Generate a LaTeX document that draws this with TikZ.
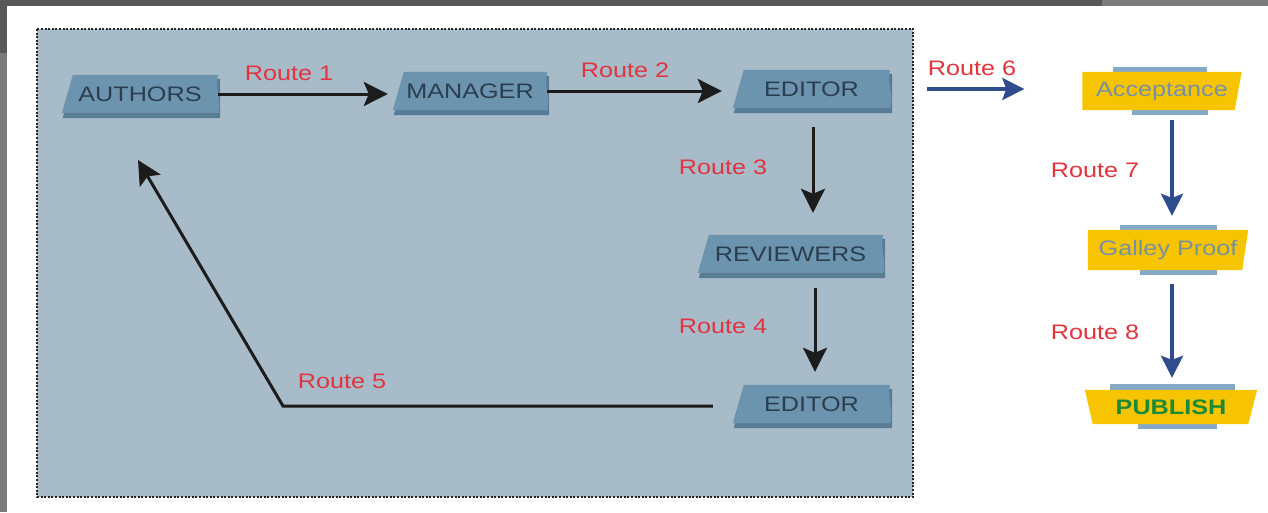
\documentclass[tikz,border=0pt]{standalone}
\usepackage{fontspec}
\setmainfont{Liberation Sans}[FakeStretch=1.2]
\usetikzlibrary{arrows.meta,backgrounds,calc}
\definecolor{panel}{HTML}{A7BBC9}
\definecolor{tagfill}{HTML}{6C94AE}
\definecolor{tagshadow}{HTML}{587C93}
\definecolor{tagtext}{HTML}{2B3E50}
\definecolor{routered}{HTML}{E2333F}
\definecolor{yfill}{HTML}{F6C400}
\definecolor{barblue}{HTML}{84A9C6}
\definecolor{ytext}{HTML}{7890A4}
\definecolor{pubgreen}{HTML}{1E8A34}
\definecolor{arrblue}{HTML}{2F4C8C}
\definecolor{arrblack}{HTML}{1C1C1C}
\definecolor{darkframe}{HTML}{585858}
\definecolor{lightframe}{HTML}{7B7B7B}
\tikzset{
  bluetag/.style={minimum height=38pt, inner sep=0pt, text=tagtext, font=\fontsize{21}{24}\selectfont},
  ytag/.style={inner sep=0pt, font=\fontsize{21}{24}\selectfont},
  routelbl/.style={text=routered, font=\fontsize{21}{24}\selectfont, inner sep=0pt},
  blackarrow/.style={draw=arrblack, line width=3pt, -{Stealth[length=24pt,width=24pt,inset=5pt]}},
  bluearrow/.style={draw=arrblue, line width=3.5pt, -{Stealth[length=22pt,width=22pt,inset=4pt]}},
  yellowbar/.style={fill=barblue},
}
\newcommand\bluetagshape[1]{%
  \fill[tagshadow] ($(#1.north west)+(11,4)$) -- ($(#1.north east)+(2,4)$) -- ($(#1.south east)+(2,5)$) -- ($(#1.south west)+(1,5)$) -- cycle;
  \fill[tagfill] ($(#1.north west)+(11,0)$) -- (#1.north east) .. controls +(-4,12) and +(4,-12) .. (#1.south east) -- (#1.south west) -- cycle;}
\newcommand\yshape[3]{%
  \fill[yfill] (#1.north west) -- (#1.north east) -- ($(#1.south east)+(-#3,0)$) -- ($(#1.south west)+(#2,0)$) -- cycle;}
\begin{document}
\begin{tikzpicture}[x=1pt,y=-1pt]
\useasboundingbox (0,0) rectangle (1268,512);
\begin{scope}[on background layer]
\fill[white] (0,0) rectangle (1268,512);
% frame strips
\fill[lightframe] (0,0) rectangle (7,512);
\fill[darkframe] (0,0) rectangle (1102,6);
\fill[lightframe] (1102,0) rectangle (1268,6);
\fill[darkframe] (0,0) rectangle (7,53);
% panel
\fill[panel] (37,29) rectangle (913,497);
\draw[black!85, line width=2.2pt, dash pattern=on 2pt off 1.6pt] (37,29) rectangle (913,497);
\end{scope}

% blue nodes
\node[bluetag, minimum width=156pt] (authors) at (140,94) {AUTHORS};
\node[bluetag, minimum width=154pt] (manager) at (470,91) {MANAGER};
\node[bluetag, minimum width=157pt] (editor) at (811.5,89) {EDITOR};
\node[bluetag, minimum width=185pt] (reviewers) at (790.5,254) {REVIEWERS};
\node[bluetag, minimum width=157pt] (editorb) at (811.5,404) {EDITOR};

% yellow nodes
\node[ytag, minimum width=159pt, minimum height=38pt, text=ytext] (accept) at (1162,91) {Acceptance};
\node[ytag, minimum width=160pt, minimum height=40pt, text=ytext] (galley) at (1168,250) {Galley Proof};
\node[ytag, minimum width=172pt, minimum height=34pt, text=pubgreen, font=\fontsize{21}{24}\selectfont\bfseries] (publish) at (1171,407) {PUBLISH};

\begin{scope}[on background layer]
  \bluetagshape{authors}
  \bluetagshape{manager}
  \bluetagshape{editor}
  \bluetagshape{reviewers}
  \bluetagshape{editorb}
  % blue bars above and below the yellow boxes
  \fill[yellowbar] (1113,67) rectangle (1207,72);
  \fill[yellowbar] (1132,110) rectangle (1208,115);
  \fill[yellowbar] (1120,225) rectangle (1217,230);
  \fill[yellowbar] (1140,270) rectangle (1217,275);
  \fill[yellowbar] (1110,384) rectangle (1235,390);
  \fill[yellowbar] (1138,424) rectangle (1217,429);
  \yshape{accept}{0}{7}
  \yshape{galley}{0}{6}
  \yshape{publish}{8}{9}
\end{scope}

% connectors
\draw[blackarrow, shorten >=5pt] (authors.east) -- (manager.west |- authors.east);
\draw[blackarrow, shorten >=11pt] (manager.east) -- (editor.west |- manager.east);
\draw[blackarrow, shorten <=19pt, shorten >=22pt] ([xshift=1.5pt]editor.south) -- ([xshift=1.5pt]editor.south |- reviewers.north);
\draw[blackarrow, shorten <=15pt, shorten >=13pt] ([xshift=24.5pt]reviewers.south) -- ([xshift=24.5pt]reviewers.south |- editorb.north);
\coordinate (r5corner) at (283,406);
\coordinate (r5tip) at (138,160);
\draw[blackarrow, line join=miter, shorten <=20pt] ([yshift=-2pt]editorb.west) -- (r5corner) -- (r5tip);
\draw[bluearrow, shorten <=37pt, shorten >=58pt] (editor.east) -- (accept.west |- editor.east);
\draw[bluearrow, shorten <=10pt, shorten >=14pt] ([xshift=10pt]accept.south) -- ([xshift=10pt]accept.south |- galley.north);
\draw[bluearrow, shorten <=14pt, shorten >=12pt] ([xshift=4pt]galley.south) -- ([xshift=4pt]galley.south |- publish.north);

% route labels
\node[routelbl] (l1) at (289,73) {Route 1};
\node[routelbl] (l2) at (625,70) {Route 2};
\node[routelbl] (l3) at (723,167) {Route 3};
\node[routelbl] (l4) at (723,326) {Route 4};
\node[routelbl] (l5) at (342,381) {Route 5};
\node[routelbl] (l6) at (972,68) {Route 6};
\node[routelbl] (l7) at (1095,170) {Route 7};
\node[routelbl] (l8) at (1095,332) {Route 8};
\end{tikzpicture}
\end{document}
